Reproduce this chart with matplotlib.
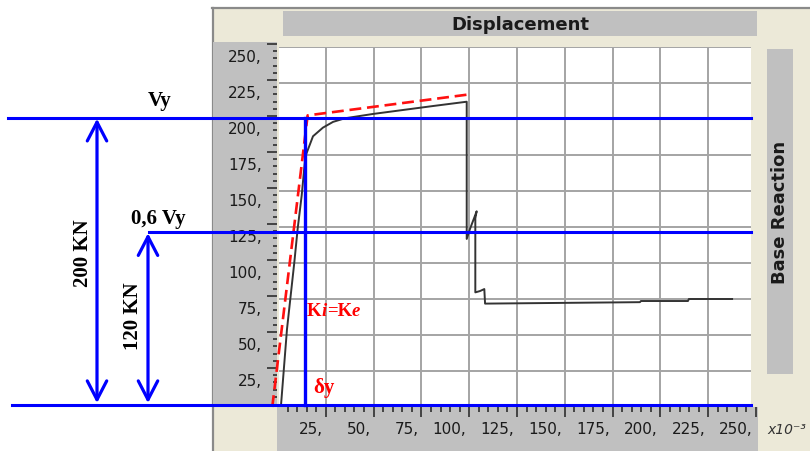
import matplotlib
matplotlib.use('Agg')
import matplotlib.pyplot as plt
from matplotlib.patches import Rectangle
from matplotlib.lines import Line2D
from matplotlib.transforms import blended_transform_factory, offset_copy
from matplotlib.offsetbox import TextArea, HPacker, AnnotationBbox

# ---------------- data ----------------
disp = [1.5, 4.7, 8.5, 10.3, 12.4, 14.3, 18.3, 23.5, 28.8, 35.0, 49.7, 81.0, 98.7,
        98.7, 100.4, 103.9, 103.2, 103.2, 105.6, 107.9, 108.3, 189.3, 189.8, 214.4,
        214.9, 237.5]
reaction = [0, 54, 100, 124, 147, 174, 188, 194, 198, 200.5, 203.5, 209, 212,
            116.7, 123.6, 135.9, 131, 79.6, 80.5, 81.9, 71.8, 72.8, 73.6, 73.6,
            75.0, 75.0]
bilin_x = [-3, 15.5, 99.5]
bilin_y = [0, 202.5, 217]
Vy = 201
Vy06 = 121.5
dy = 14
base_line = 1.5
x_ticks = [25, 50, 75, 100, 125, 150, 175, 200, 225, 250]
x_tick_labels = ['25,', '50,', '75,', '100,', '125,', '150,', '175,', '200,', '225,', '250,']
y_ticks = [25, 50, 75, 100, 125, 150, 175, 200, 225, 250]
y_tick_labels = ['25,', '50,', '75,', '100,', '125,', '150,', '175,', '200,', '225,', '250,']
grid_vals = [25, 50, 75, 100, 125, 150, 175, 200, 225]

# ---------------- layout ----------------
W, H = 810, 452
BEIGE = '#ECE9D8'
GRAY = '#C0C0C0'
fig = plt.figure(figsize=(W / 100, H / 100), dpi=100)
fig.patch.set_facecolor('white')

def fx(x):
    return x / W

def fy(y):
    return 1 - y / H

def frect(x0, y0, x1, y1, color, z=-5):
    fig.add_artist(Rectangle((fx(x0), fy(y1)), (x1 - x0) / W, (y1 - y0) / H,
                             transform=fig.transFigure, facecolor=color,
                             edgecolor='none', zorder=z))

def add_axes_px(x0, y0, x1, y1):
    return fig.add_axes([fx(x0), fy(y1), (x1 - x0) / W, (y1 - y0) / H])

XS, X0 = 1.912, 278.0
YS, Y0 = 1.44, 408.0

# frame
frect(212, 8, 810, 452, BEIGE, z=-6)
fig.add_artist(Line2D([fx(212), fx(810)], [fy(9), fy(9)], transform=fig.transFigure,
                      color='#8a8a8a', lw=1.6, zorder=-4))
fig.add_artist(Line2D([fx(212.5), fx(212.5)], [fy(9), fy(452)], transform=fig.transFigure,
                      color='#8a8a8a', lw=1.6, zorder=-4))
# title strip
frect(283, 12, 757, 37, GRAY)
fig.text(fx(520), fy(25), 'Displacement', ha='center', va='center', fontsize=13,
         fontweight='bold', color='#1a1a1a', family='DejaVu Sans')
# right strip
frect(767, 50, 793, 375, GRAY)
fig.text(fx(780), fy(212), 'Base Reaction', ha='center', va='center', fontsize=13,
         fontweight='bold', color='#1a1a1a', rotation=90, family='DejaVu Sans')
fig.text(fx(767), fy(430), 'x10⁻³', ha='left', va='center', fontsize=10,
         fontstyle='italic', color='#333333', family='DejaVu Sans')

# main plot axes
ax = add_axes_px(279, 48, 751, 408)
ax.set_zorder(3)
ax.set_facecolor('white')
for s in ax.spines.values():
    s.set_visible(False)
ax.set_xticks(grid_vals)
ax.set_yticks(grid_vals)
ax.tick_params(length=0, labelbottom=False, labelleft=False)
ax.grid(True, color='#a4a4a4', lw=1.4)
ax.axhline(250, color='#a4a4a4', lw=1.4)
ax.set_axisbelow(True)

ax.plot(disp, reaction, color='#333333', lw=1.4, zorder=3)
ax.plot(bilin_x, bilin_y, color='#ff1010', lw=1.9, dashes=(4.5, 2.2), zorder=4,
        clip_on=False)

blend = blended_transform_factory(fig.transFigure, ax.transData)
blue = '#0000ff'
ax.plot([fx(8), fx(751)], [Vy, Vy], transform=blend, color=blue, lw=2.2,
        clip_on=False, zorder=5)
ax.plot([fx(149), fx(751)], [Vy06, Vy06], transform=blend, color=blue, lw=2.2,
        clip_on=False, zorder=5)
ax.plot([fx(12), fx(751)], [base_line, base_line], transform=blend, color=blue,
        lw=2.2, clip_on=False, zorder=5)
ax.plot([dy, dy], [base_line, Vy], color=blue, lw=2.4, clip_on=False, zorder=5)

for xa, ytop in [(97, Vy), (148, Vy06)]:
    ax.annotate('', xy=(fx(xa), ytop - 0.8), xycoords=blend,
                xytext=(fx(xa), base_line + 1.2), textcoords=blend,
                arrowprops=dict(arrowstyle='<->,head_length=1.35,head_width=0.7',
                                color=blue, lw=2.3, shrinkA=0, shrinkB=0),
                annotation_clip=False)

serif = dict(family='Liberation Serif', fontweight='bold')
fig.text(fx(160), fy(101), 'Vy', ha='center', va='center', fontsize=15, color='black', **serif)
fig.text(fx(158), fy(219), '0,6 Vy', ha='center', va='center', fontsize=15, color='black', **serif)
fig.text(fx(83), fy(253), '200 KN', ha='center', va='center', fontsize=15, rotation=90,
         color='black', **serif)
fig.text(fx(133), fy(316), '120 KN', ha='center', va='center', fontsize=15, rotation=90,
         color='black', **serif)
fig.text(fx(313), fy(388), 'δy', ha='left', va='center', fontsize=15, color='#ff0000',
         zorder=10, **serif)

parts = [('K', 'normal'), ('i', 'italic'), ('=K', 'normal'), ('e', 'italic')]
areas = [TextArea(s, textprops=dict(color='#ff0000', fontsize=13.5, fontweight='bold',
                                    fontstyle=st, family='Liberation Serif'))
         for s, st in parts]
box = HPacker(children=areas, pad=0, sep=0, align='baseline')
ab = AnnotationBbox(box, (fx(307), fy(311)), xycoords='figure fraction',
                    box_alignment=(0, 0.5), frameon=False, pad=0)
ab.set_zorder(10)
fig.add_artist(ab)

ax.set_xlim((279 - X0) / XS, (751 - X0) / XS)
ax.set_ylim(0, 250)

# y tick panel
ay = add_axes_px(213, 43, 277, 408)
ay.set_facecolor(GRAY)
for s in ay.spines.values():
    s.set_visible(False)
ay.set_ylim((405 - 408) / YS, (405 - 43) / YS)
ay.set_xlim(0, 1)
ay.set_xticks([])
ay.yaxis.set_ticks_position('right')
ay.set_yticks(y_ticks)
ay.set_yticks([v for v in range(5, 251, 5) if v % 25], minor=True)
ay.tick_params(axis='y', which='major', direction='in', length=7.5, width=1.1,
               color='#222222', labelright=False, labelleft=False)
ay.tick_params(axis='y', which='minor', direction='in', length=3, width=1.1,
               color='#222222')
ty = offset_copy(blended_transform_factory(ay.transAxes, ay.transData), fig=fig,
                 y=-12.5, units='dots')
for v, lab in zip(y_ticks, y_tick_labels):
    ay.text((262 - 213) / 64, v, lab, transform=ty, ha='right', va='center',
            fontsize=11, color='#1a1a1a', family='DejaVu Sans')

# x tick panel
axp = add_axes_px(277, 408, 758, 452)
axp.set_facecolor(GRAY)
for s in axp.spines.values():
    s.set_visible(False)
axp.set_xlim((277 - X0) / XS, (758 - X0) / XS)
axp.set_ylim(0, 1)
axp.set_yticks([])
axp.xaxis.set_ticks_position('top')
axp.set_xticks(x_ticks)
axp.set_xticks([v for v in range(5, 251, 5) if v % 25], minor=True)
axp.tick_params(axis='x', which='major', direction='in', length=7.5, width=1.1,
                color='#222222', labeltop=False, labelbottom=False)
axp.tick_params(axis='x', which='minor', direction='in', length=3.3, width=1.1,
                color='#222222')
tx = offset_copy(blended_transform_factory(axp.transData, axp.transAxes), fig=fig,
                 x=-3, units='dots')
for v, lab in zip(x_ticks, x_tick_labels):
    axp.text(v, (452 - 430) / 44, lab, transform=tx, ha='right', va='center',
             fontsize=11, color='#1a1a1a', family='DejaVu Sans')

fig.savefig('out.png', dpi=100)
